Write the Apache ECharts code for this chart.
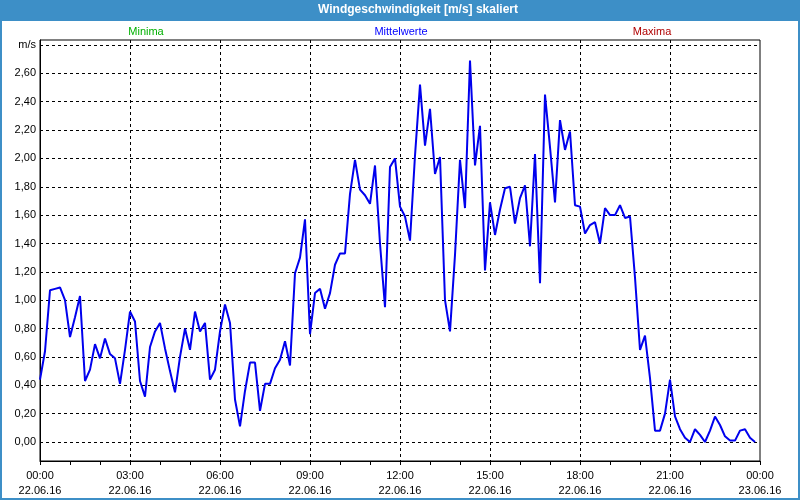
<!DOCTYPE html>
<html>
<head>
<meta charset="utf-8">
<script src="https://cdn.jsdelivr.net/npm/echarts@6/dist/echarts.min.js"></script>
<style>
  html, body { margin: 0; padding: 0; background: #fff; }
  #chart { width: 800px; height: 500px; }
</style>
</head>
<body>
<div id="chart"></div>
<script>
// Windgeschwindigkeit 22.06.16, ein Wert alle 10 Minuten (00:00 .. 23:50)
var speed = [
  0.44, 0.64, 1.07, 1.08, 1.09, 1.00, 0.74, 0.88, 1.03, 0.43, 0.51, 0.69,
  0.59, 0.73, 0.62, 0.59, 0.41, 0.65, 0.92, 0.85, 0.43, 0.32, 0.67, 0.78,
  0.84, 0.66, 0.50, 0.35, 0.60, 0.80, 0.65, 0.92, 0.78, 0.84, 0.44, 0.51,
  0.78, 0.97, 0.84, 0.30, 0.11, 0.36, 0.56, 0.56, 0.22, 0.41, 0.41, 0.52,
  0.58, 0.71, 0.54, 1.19, 1.30, 1.57, 0.76, 1.05, 1.08, 0.94, 1.05, 1.25,
  1.33, 1.33, 1.75, 1.99, 1.78, 1.74, 1.68, 1.95, 1.40, 0.95, 1.94, 2.00,
  1.66, 1.59, 1.42, 2.02, 2.52, 2.09, 2.35, 1.89, 2.01, 1.00, 0.78, 1.32,
  1.99, 1.65, 2.69, 1.95, 2.23, 1.21, 1.69, 1.46, 1.64, 1.79, 1.80, 1.54,
  1.72, 1.81, 1.38, 2.03, 1.12, 2.45, 2.08, 1.69, 2.27, 2.06, 2.19, 1.67,
  1.66, 1.47, 1.53, 1.55, 1.40, 1.65, 1.60, 1.60, 1.67, 1.58, 1.59, 1.16,
  0.65, 0.75, 0.45, 0.08, 0.08, 0.20, 0.44, 0.18, 0.09, 0.03, 0.00, 0.09,
  0.05, 0.00, 0.08, 0.18, 0.12, 0.04, 0.01, 0.01, 0.08, 0.09, 0.03, 0.00
];
var stepMinutes = 10;

var hourLabels = ['00:00', '03:00', '06:00', '09:00', '12:00', '15:00', '18:00', '21:00', '00:00'];
var dayLabels = ['22.06.16', '22.06.16', '22.06.16', '22.06.16', '22.06.16', '22.06.16', '22.06.16', '22.06.16', '23.06.16'];
var yTicks = [0, 0.2, 0.4, 0.6, 0.8, 1.0, 1.2, 1.4, 1.6, 1.8, 2.0, 2.2, 2.4, 2.6, 2.8];
var unitLabel = 'm/s';
var titleText = 'Windgeschwindigkeit [m/s] skaliert';

var font = 'Liberation Sans';
var chart = echarts.init(document.getElementById('chart'));

chart.setOption({
  animation: false,
  backgroundColor: '#fff',
  graphic: [
    { type: 'rect', shape: { x: 0, y: 0, width: 800, height: 21 }, style: { fill: '#3d8fc7' } },
    { type: 'rect', shape: { x: 1, y: 1, width: 798, height: 498 }, style: { fill: null, stroke: '#3d8fc7', lineWidth: 2 } },
    { type: 'text', x: 418, y: 10, style: { text: titleText, fill: '#fff', font: 'bold 12px ' + font, textAlign: 'center', textVerticalAlign: 'middle' } },
    { type: 'text', x: 146, y: 32, style: { text: 'Minima', fill: '#00b000', font: '11px ' + font, textAlign: 'center', textVerticalAlign: 'middle' } },
    { type: 'text', x: 401, y: 32, style: { text: 'Mittelwerte', fill: '#0000ff', font: '11px ' + font, textAlign: 'center', textVerticalAlign: 'middle' } },
    { type: 'text', x: 652, y: 32, style: { text: 'Maxima', fill: '#b00000', font: '11px ' + font, textAlign: 'center', textVerticalAlign: 'middle' } }
  ],
  grid: {
    left: 40, right: 40, top: 40, bottom: 39,
    show: true, borderColor: '#000', borderWidth: 1, backgroundColor: '#fff'
  },
  xAxis: {
    type: 'value',
    min: 0,
    max: 1440,
    interval: 180,
    axisLine: { show: true, onZero: false, lineStyle: { color: '#000', width: 1 } },
    axisTick: { show: true, length: 4, lineStyle: { color: '#000' } },
    minorTick: { show: true, splitNumber: 3, length: 4, lineStyle: { color: '#000' } },
    splitLine: { show: true, showMinLine: false, showMaxLine: false, lineStyle: { color: '#000', type: [3, 3] } },
    axisLabel: {
      showMinLabel: true,
      showMaxLabel: true,
      color: '#000',
      fontFamily: font,
      fontSize: 11,
      lineHeight: 15,
      margin: 7,
      formatter: function (v) {
        var k = Math.round(v / 180);
        return hourLabels[k] + '\n' + dayLabels[k];
      }
    }
  },
  yAxis: {
    type: 'value',
    min: -0.134,
    max: 2.835,
    axisLine: { show: true, lineStyle: { color: '#000', width: 1 } },
    axisTick: { show: true, length: 0, customValues: yTicks },
    splitLine: { show: true, lineStyle: { color: '#000', type: [3, 3] } },
    axisLabel: {
      customValues: yTicks,
      color: '#000',
      fontFamily: font,
      fontSize: 11,
      margin: 4,
      formatter: function (v) {
        if (v > 2.79) return unitLabel;
        return v.toFixed(2).replace('.', ',');
      }
    }
  },
  series: [{
    name: 'Mittelwerte',
    type: 'line',
    showSymbol: false,
    lineStyle: { color: '#0000ee', width: 2 },
    data: speed.map(function (v, i) { return [i * stepMinutes, v]; })
  }]
});
</script>
</body>
</html>
